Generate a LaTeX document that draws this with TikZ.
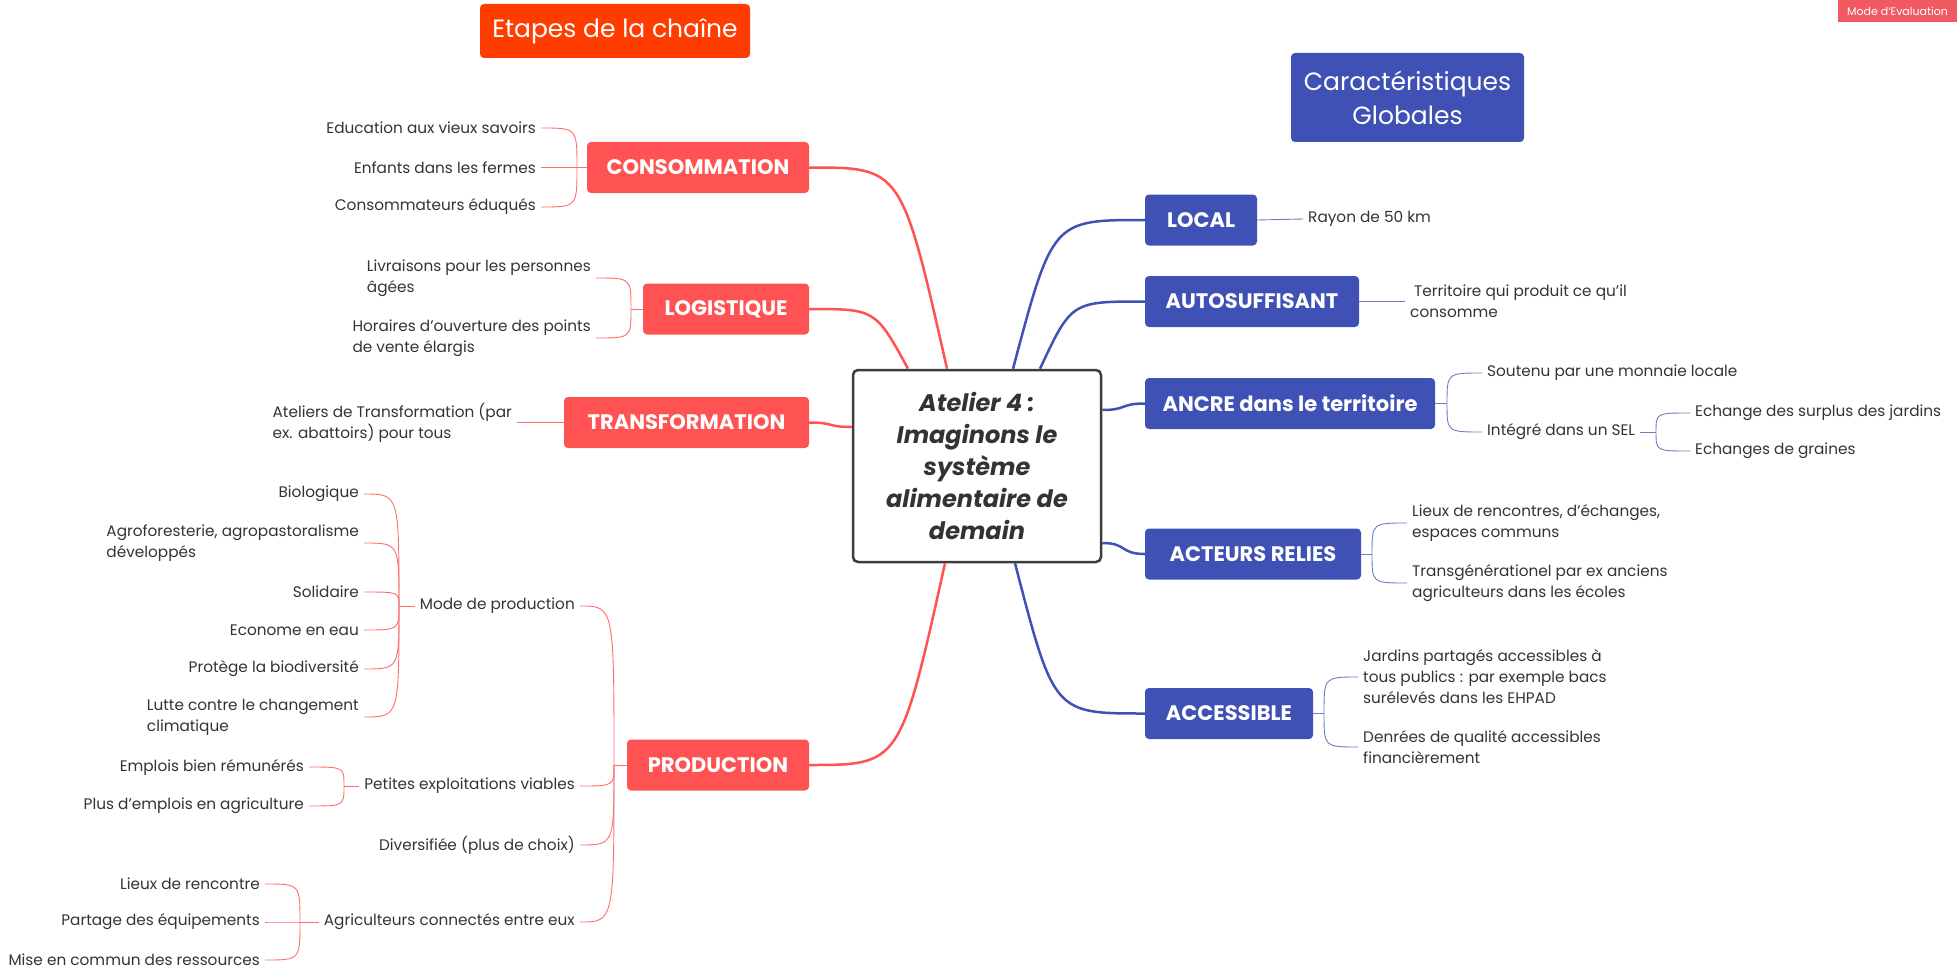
\documentclass[tikz,border=0pt]{standalone}
\usepackage{fontspec}
\setmainfont{Poppins}
\usetikzlibrary{positioning,calc}

\definecolor{cred}{HTML}{FF5252}
\definecolor{corange}{HTML}{FF3D00}
\definecolor{cblue}{HTML}{3F51B5}
\definecolor{ctext}{HTML}{333333}
\definecolor{cbadge}{HTML}{F15A63}

\tikzset{
  branch/.style={rounded corners=4pt, inner sep=0pt, minimum height=51pt, text=white, font=\fontsize{21}{25}\selectfont\bfseries},
  redbranch/.style={branch, fill=cred},
  bluebranch/.style={branch, fill=cblue},
  titlebox/.style={rounded corners=4pt, inner sep=0pt, text=white, font=\fontsize{25}{34}\selectfont},
  leaf/.style={inner xsep=5pt, inner ysep=0pt, text=ctext, font=\fontsize{15.3}{21}\selectfont},
  leafl/.style={leaf, anchor=east, align=left},
  leafr/.style={leaf, anchor=west, align=left},
  redlink/.style={draw=cred, line width=2.5pt},
  bluelink/.style={draw=cblue, line width=2.5pt},
  redtwig/.style={draw=cred!85, line width=0.9pt},
  bluetwig/.style={draw=cblue!75, line width=0.9pt}
}

\begin{document}
\begin{tikzpicture}[x=1pt,y=-1pt]
\useasboundingbox (0,0) rectangle (1957,971);

% titres
\node[titlebox, fill=corange, minimum width=270pt, minimum height=54pt] (etapes) at (615,31) {Etapes de la chaîne};
\node[titlebox, fill=cblue, minimum width=233pt, minimum height=89pt, align=center] (caract) at (1407.5,97.5) {Caractéristiques\\Globales};
\node[fill=cbadge, inner sep=0pt, minimum width=119pt, minimum height=22pt, text=white, font=\fontsize{11}{12}\selectfont] (badge) at (1897.5,11) {Mode d'Evaluation};

% centre
\node[draw=ctext!95, line width=2.5pt, fill=white, rounded corners=5pt, minimum width=248pt, minimum height=192pt, inner sep=0pt, align=center, text=ctext, font=\fontsize{24}{32}\selectfont\bfseries\itshape] (atelier) at (977,466)
  {Atelier 4 :\\Imaginons le\\système\\alimentaire de\\demain};

% branches rouges
\node[redbranch, minimum width=222pt] (conso) at (698,167.5) {CONSOMMATION};
\node[redbranch, minimum width=166pt] (logi) at (726,309) {LOGISTIQUE};
\node[redbranch, minimum width=245pt] (transfo) at (686.5,422.5) {TRANSFORMATION};
\node[redbranch, minimum width=182pt] (prod) at (718,765) {PRODUCTION};

% branches bleues
\node[bluebranch, minimum width=112pt] (local) at (1201,220) {LOCAL};
\node[bluebranch, minimum width=214pt] (autos) at (1252,301.5) {AUTOSUFFISANT};
\node[bluebranch, minimum width=290pt] (ancre) at (1290,403.5) {ANCRE dans le territoire};
\node[bluebranch, minimum width=216pt] (acteurs) at (1253,554) {ACTEURS RELIES};
\node[bluebranch, minimum width=168pt] (access) at (1229,713.5) {ACCESSIBLE};

% points d'arrivee sur le centre
\coordinate (cA) at ([xshift=-30pt]atelier.north);
\coordinate (cB) at ([xshift=-69pt]atelier.north);
\coordinate (cC) at ([yshift=39pt]atelier.west);
\coordinate (cD) at ([xshift=-32pt]atelier.south);
\coordinate (cE) at ([xshift=36pt]atelier.north);
\coordinate (cF) at ([xshift=63pt]atelier.north);
\coordinate (cG) at ([yshift=56pt]atelier.east);
\coordinate (cH) at ([yshift=-77pt]atelier.east);
\coordinate (cI) at ([xshift=38pt]atelier.south);

\draw[redlink] (conso.east) .. controls ($(conso.east)!0.67!(cA |- conso.east)$) .. (cA);
\draw[redlink] (logi.east) .. controls ($(logi.east)!0.67!(cB |- logi.east)$) .. (cB);
\draw[redlink] (transfo.east) .. controls +(25,0) and +(-25,0) .. (cC);
\draw[redlink] (prod.east) .. controls ($(prod.east)!0.67!(cD |- prod.east)$) .. (cD);
\draw[bluelink] (local.west) .. controls ($(local.west)!0.7!(cE |- local.west)$) .. (cE);
\draw[bluelink] (autos.west) .. controls ($(autos.west)!0.7!(cF |- autos.west)$) .. (cF);
\draw[bluelink] (ancre.west) .. controls +(-25,0) and +(25,0) .. (cG);
\draw[bluelink] (acteurs.west) .. controls +(-25,0) and +(25,0) .. (cH);
\draw[bluelink] (access.west) .. controls ($(access.west)!0.7!(cI |- access.west)$) .. (cI);

% CONSOMMATION
\coordinate (jconso) at (577,167.5);
\node[leafl] (edu) at (541,128) {Education aux vieux savoirs};
\node[leafl] (enf) at (541,167.5) {Enfants dans les fermes};
\node[leafl] (cedu) at (541,207) {Consommateurs éduqués};
\draw[redtwig] (conso.west) -- (jconso);
\foreach \f in {edu,enf,cedu}
  \draw[redtwig] (jconso) .. controls (jconso |- \f.east) .. (\f.east);

% LOGISTIQUE
\coordinate (jlogi) at (631,309);
\node[leafl] (livr) at (596,278) {Livraisons pour les personnes\\âgées};
\node[leafl] (hor) at (596,338) {Horaires d'ouverture des points\\de vente élargis};
\draw[redtwig] (logi.west) -- (jlogi);
\foreach \f in {livr,hor}
  \draw[redtwig] (jlogi) .. controls (jlogi |- \f.east) .. (\f.east);

% TRANSFORMATION
\node[leafl] (ateliers) at (517,422.5) {Ateliers de Transformation (par\\ex. abattoirs) pour tous};
\draw[redtwig] (transfo.west) -- (ateliers.east);

% PRODUCTION
\coordinate (jprod) at (614,765);
\node[leafl] (mode) at (580,606) {Mode de production};
\node[leafl] (petites) at (580,786) {Petites exploitations viables};
\node[leafl] (divers) at (580,845) {Diversifiée (plus de choix)};
\node[leafl] (agri) at (580,922) {Agriculteurs connectés entre eux};
\draw[redtwig] (prod.west) -- (jprod);
\foreach \f in {mode,petites,divers,agri}
  \draw[redtwig] (jprod) .. controls (jprod |- \f.east) .. (\f.east);

\coordinate (jmode) at (399,606);
\node[leafl] (bio) at (364,494) {Biologique};
\node[leafl] (agro) at (364,543) {Agroforesterie, agropastoralisme\\développés};
\node[leafl] (soli) at (364,592) {Solidaire};
\node[leafl] (eco) at (364,630) {Econome en eau};
\node[leafl] (protege) at (364,669) {Protège la biodiversité};
\node[leafl] (lutte) at (364,717) {Lutte contre le changement\\climatique};
\draw[redtwig] (mode.west) -- (jmode);
\foreach \f in {bio,agro,soli,eco,protege,lutte}
  \draw[redtwig] (jmode) .. controls (jmode |- \f.east) .. (\f.east);

\coordinate (jpetites) at (344,786);
\node[leafl] (emplois) at (309,767) {Emplois bien rémunérés};
\node[leafl] (plus) at (309,806) {Plus d'emplois en agriculture};
\draw[redtwig] (petites.west) -- (jpetites);
\foreach \f in {emplois,plus}
  \draw[redtwig] (jpetites) .. controls (jpetites |- \f.east) .. (\f.east);

\coordinate (jagri) at (300,922);
\node[leafl] (lieux) at (265,884) {Lieux de rencontre};
\node[leafl] (partage) at (265,922) {Partage des équipements};
\node[leafl] (mise) at (265,960) {Mise en commun des ressources};
\draw[redtwig] (agri.west) -- (jagri);
\foreach \f in {lieux,partage,mise}
  \draw[redtwig] (jagri) .. controls (jagri |- \f.east) .. (\f.east);

% LOCAL, AUTOSUFFISANT
\node[leafr] (rayon) at (1303,219) {Rayon de 50 km};
\draw[bluetwig] (local.east) -- (rayon.west);
\node[leafr] (terr) at (1405,301.5) {\hspace{4pt}Territoire qui produit ce qu'il\\consomme};
\draw[bluetwig] (autos.east) -- (terr.west);

% ANCRE
\coordinate (jancre) at (1447,403.5);
\node[leafr] (soutenu) at (1482,373) {Soutenu par une monnaie locale};
\node[leafr] (integre) at (1482,432) {Intégré dans un SEL};
\draw[bluetwig] (ancre.east) -- (jancre);
\foreach \f in {soutenu,integre}
  \draw[bluetwig] (jancre) .. controls (jancre |- \f.west) .. (\f.west);

\coordinate (jsel) at (1656,432);
\node[leafr] (surplus) at (1690,413) {Echange des surplus des jardins};
\node[leafr] (graines) at (1690,451) {Echanges de graines};
\draw[bluetwig] (integre.east) -- (jsel);
\foreach \f in {surplus,graines}
  \draw[bluetwig] (jsel) .. controls (jsel |- \f.west) .. (\f.west);

% ACTEURS RELIES
\coordinate (jacteurs) at (1372,554);
\node[leafr] (rencontres) at (1407,523) {Lieux de rencontres, d'échanges,\\espaces communs};
\node[leafr] (transg) at (1407,583) {Transgénérationel par ex anciens\\agriculteurs dans les écoles};
\draw[bluetwig] (acteurs.east) -- (jacteurs);
\foreach \f in {rencontres,transg}
  \draw[bluetwig] (jacteurs) .. controls (jacteurs |- \f.west) .. (\f.west);

% ACCESSIBLE
\coordinate (jaccess) at (1324,713.5);
\node[leafr] (jardins) at (1358,677) {Jardins partagés accessibles à\\tous publics : par exemple bacs\\surélevés dans les EHPAD};
\node[leafr] (denrees) at (1358,747) {Denrées de qualité accessibles\\financièrement};
\draw[bluetwig] (access.east) -- (jaccess);
\foreach \f in {jardins,denrees}
  \draw[bluetwig] (jaccess) .. controls (jaccess |- \f.west) .. (\f.west);
\end{tikzpicture}
\end{document}
